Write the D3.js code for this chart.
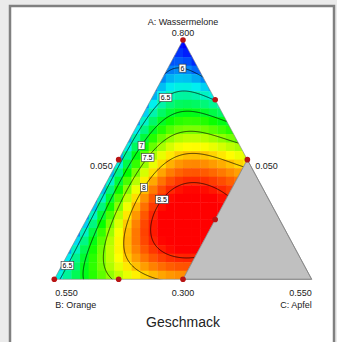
<!DOCTYPE html>
<html><head><meta charset="utf-8">
<script src="https://cdn.jsdelivr.net/npm/d3@7"></script>
<style>
html,body{margin:0;padding:0;background:#ebebeb;}
svg{display:block;font-family:"Liberation Sans",Arial,sans-serif;}
</style></head><body>
<svg id="chart" width="337" height="342"></svg>
<script>
// Scheffé mixture model for Geschmack in pseudo-components (A, B, C)
const termNames = ["A","B","C","AB","AC","BC","AB(A-B)","AC(A-C)","BC(B-C)","ABC","A²BC","AB²C","ABC²"];
const coefficients = [5.57, 6.37, 6.02, 1.31, 8.16, 7.58, 1.79, -7.79, -1.19, 15.84, 16.74, 32.23, -33.13];

// contour levels and the composition each label sits near: [level, A, C]
const levels = [6, 6.5, 7, 7.5, 8, 8.5];
const labelAnchors = [[6,0.884,0.058],[6.5,0.767,0.045],[7,0.568,0.044],[7.5,0.518,0.093],[8,0.393,0.141],[8.5,0.349,0.226],[6.5,0.067,0.0]];

// design points [A, B, C]
const designPoints = [[1,0,0],[0.75,0,0.25],[0.5,0,0.5],[0.5,0.5,0],[0,1,0],[0,0.75,0.25],[0,0.5,0.5],[0.25,0.25,0.5]];

// axis titles and tick labels
const componentNames = ["A: Wassermelone", "B: Orange", "C: Apfel"];
const tickLabels = ["0.800", "0.550", "0.550", "0.300", "0.050", "0.050"];
const chartTitle = "Geschmack";

function terms(a,b,c){return [a,b,c,a*b,a*c,b*c,a*b*(a-b),a*c*(a-c),b*c*(b-c),a*b*c,a*a*b*c,a*b*b*c,a*b*c*c];}
function model(a,b,c){const t=terms(a,b,c);let s=0;for(let i=0;i<t.length;i++) s+=coefficients[i]*t[i];return s;}

const svg=d3.select("#chart");
const yA=d3.scaleLinear().domain([0,1]).range([279.3,40]);
const xA=d3.scaleLinear().domain([0,1]).range([54.3,183]);
const xC=d3.scaleLinear().domain([0,1]).range([0,257.4]);
const P=(a,c)=>[xA(a)+xC(c),yA(a)];
const color=d3.scaleLinear().domain([5.6,6.35,7.1,7.85,8.6])
  .range(["#0000ff","#00f0f0","#00ff00","#ffff00","#ff0000"]).clamp(true);

// panel
svg.append("rect").attr("x",10).attr("y",6).attr("width",324).attr("height",345)
  .attr("fill","#fff").attr("stroke","#808080").attr("stroke-width",2.5);

// feasible region: C limited to half of the simplex
const feas=[P(1,0),P(0,0),P(0,0.5),P(0.5,0.5)];
svg.append("clipPath").attr("id","feas").append("path").attr("d","M"+feas.join("L")+"Z");
const g=svg.append("g").attr("clip-path","url(#feas)");

// coloured response cells
const nCx=30,nCy=28,cw=257.4/nCx,ch=239.3/nCy;
const cells=[];
for(let j=0;j<nCy;j++)for(let i=0;i<nCx;i++){
  const x=54.3+i*cw,y=40+j*ch;const a=yA.invert(y+ch/2);const c=xC.invert(x+cw/2-xA(a));
  cells.push({x,y,v:model(a,1-a-c,c)});
}
g.selectAll("rect.cell").data(cells).join("rect").attr("class","cell")
  .attr("x",d=>d.x).attr("y",d=>d.y).attr("width",cw+0.4).attr("height",ch+0.4)
  .attr("fill",d=>color(d.v));

// contour lines
const step=1,x0=44,y0=30,nx=280,ny=262;const vals=new Array(nx*ny);
for(let j=0;j<ny;j++)for(let i=0;i<nx;i++){
  const x=x0+(i+0.5)*step,y=y0+(j+0.5)*step;const a=yA.invert(y);const c=xC.invert(x-xA(a));
  vals[j*nx+i]=model(a,1-a-c,c);
}
const cont=d3.contours().size([nx,ny]).thresholds(levels)(vals);
const proj=d3.geoTransform({point(x,y){this.stream.point(x0+x*step,y0+y*step);}});
g.selectAll("path.iso").data(cont).join("path").attr("class","iso")
  .attr("d",d3.geoPath(proj)).attr("fill","none").attr("stroke","#000").attr("stroke-width",0.7);

// excluded region and outline
svg.append("path").attr("d","M"+[P(0.5,0.5),P(0,0.5),P(0,1)].join("L")+"Z")
  .attr("fill","#c0c0c0").attr("stroke","#808080").attr("stroke-width",0.8);
svg.append("path").attr("d","M"+[P(1,0),P(0,0),P(0,1)].join("L")+"Z")
  .attr("fill","none").attr("stroke","#808080").attr("stroke-width",0.6);

// inside test for the feasible region
function inside(x,y){const a=yA.invert(y);const c=xC.invert(x-xA(a));return a>=0.01&&c>=0.005&&c<=0.49&&(1-a-c)>=0.005;}

// contour labels snapped onto their line
const lg=svg.append("g").attr("font-size",7).attr("fill","#000");
labelAnchors.forEach(([lev,a,c])=>{
  const target=P(a,c);const geo=cont[levels.indexOf(lev)];
  let best=null,bd=Infinity;
  geo.coordinates.forEach(poly=>poly.forEach(ring=>ring.forEach(([gx,gy])=>{
    const x=x0+gx*step,y=y0+gy*step;if(!inside(x,y))return;
    const d=(x-target[0])**2+(y-target[1])**2;if(d<bd){bd=d;best=[x,y];}
  })));
  if(!best) best=target;
  const t=lg.append("text").attr("x",best[0]).attr("y",best[1]+2.5).attr("text-anchor","middle").text(String(lev));
  const w=t.node().getComputedTextLength()+3;
  lg.insert("rect","text").attr("x",best[0]-w/2).attr("y",best[1]-4).attr("width",w).attr("height",8)
    .attr("fill","#fff").attr("stroke","#333").attr("stroke-width",0.6);
});

// design points
svg.selectAll("circle.dp").data(designPoints).join("circle").attr("class","dp")
  .attr("cx",d=>P(d[0],d[2])[0]).attr("cy",d=>P(d[0],d[2])[1]).attr("r",2.8).attr("fill","#b81414");

// axis texts
const tx=svg.append("g").attr("font-size",9).attr("fill","#222");
const vTop=P(1,0),vBL=P(0,0),vBR=P(0,1),mBot=P(0,0.5),mLeft=P(0.5,0),mRight=P(0.5,0.5);
tx.append("text").attr("x",vTop[0]).attr("y",vTop[1]-15).attr("text-anchor","middle").text(componentNames[0]);
tx.append("text").attr("x",vTop[0]).attr("y",vTop[1]-4.5).attr("text-anchor","middle").text(tickLabels[0]);
tx.append("text").attr("x",vBL[0]+1).attr("y",vBL[1]+17).attr("text-anchor","start").text(tickLabels[1]);
tx.append("text").attr("x",vBL[0]+1).attr("y",vBL[1]+28.5).attr("text-anchor","start").text(componentNames[1]);
tx.append("text").attr("x",vBR[0]).attr("y",vBR[1]+17).attr("text-anchor","end").text(tickLabels[2]);
tx.append("text").attr("x",vBR[0]).attr("y",vBR[1]+28.5).attr("text-anchor","end").text(componentNames[2]);
tx.append("text").attr("x",mBot[0]).attr("y",mBot[1]+17).attr("text-anchor","middle").text(tickLabels[3]);
tx.append("text").attr("x",mLeft[0]-6).attr("y",mLeft[1]+9).attr("text-anchor","end").text(tickLabels[4]);
tx.append("text").attr("x",mRight[0]+8).attr("y",mRight[1]+9).attr("text-anchor","start").text(tickLabels[5]);
svg.append("text").attr("x",183).attr("y",327).attr("text-anchor","middle").attr("font-size",14).attr("fill","#222").text(chartTitle);
</script></body></html>
